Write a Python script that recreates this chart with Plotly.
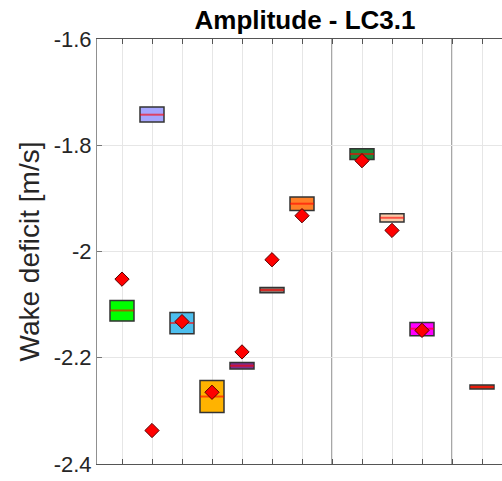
import plotly.graph_objects as go

# ---- data ----
positions   = [1, 2, 3, 4, 5, 6, 7, 9, 10, 11, 13]
box_top     = [-2.092, -1.728, -2.115, -2.243, -2.209, -2.0676, -1.8974, -1.8065, -1.9289, -2.1335, -2.2513]
box_bottom  = [-2.131, -1.756, -2.155, -2.303, -2.221, -2.0776, -1.9226, -1.8266, -1.9445, -2.1585, -2.2588]
medians     = [-2.111, -1.7425, -2.1346, -2.273, -2.215, -2.0725, -1.910, -1.8165, -1.9365, -2.1453, -2.2550]
diamond_pos = [1, 2, 3, 4, 5, 6, 7, 9, 10, 11]
diamond_val = [-2.052, -2.337, -2.132, -2.265, -2.189, -2.0155, -1.9326, -1.829, -1.9603, -2.1485]
separators  = [8, 12]
xtick_vals  = list(range(1, 14))
ytick_vals  = [-2.4, -2.2, -2.0, -1.8, -1.6]
ytick_text  = ["-2.4", "-2.2", "-2", "-1.8", "-1.6"]

# ---- styles ----
box_colors = ["#00FF00", "#A6A6FF", "#4DBEEE", "#FFB300", "#7E2F8E", "#8C7068",
              "#FF7F27", "#1B8A3A", "#F8CBA8", "#FF00FF", "#C8461E"]
FONT = "Liberation Sans, Arial, Helvetica, sans-serif"
W = 0.8

fig = go.Figure()

fig.add_trace(go.Bar(
    x=positions,
    y=[t - b for t, b in zip(box_top, box_bottom)],
    base=box_bottom,
    width=W,
    marker=dict(color=box_colors, line=dict(color="#333333", width=1.5)),
    showlegend=False, hoverinfo="skip",
))

mx, my = [], []
for p, m in zip(positions, medians):
    mx += [p - W / 2, p + W / 2, None]
    my += [m, m, None]
fig.add_trace(go.Scatter(x=mx, y=my, mode="lines",
                         line=dict(color="rgba(255,0,0,0.6)", width=2),
                         showlegend=False, hoverinfo="skip"))

fig.add_trace(go.Scatter(x=diamond_pos, y=diamond_val, mode="markers",
                         marker=dict(symbol="diamond", size=11, color="#FF0000",
                                     line=dict(color="#5a0000", width=1)),
                         showlegend=False, hoverinfo="skip"))

for s in separators:
    fig.add_vline(x=s, line=dict(color="#8a8a8a", width=1.5), layer="below")

fig.update_layout(
    width=502, height=481,
    margin=dict(l=97, r=0, t=39, b=17),
    paper_bgcolor="white", plot_bgcolor="white",
    barmode="overlay",
    font=dict(family=FONT, color="#262626"),
    title=dict(text="<b>Amplitude - LC3.1</b>", x=(305 - 97) / 405, xref="paper",
               xanchor="center", y=1 - 20 / 481, yref="container", yanchor="middle",
               font=dict(size=26, color="black", family=FONT)),
    xaxis=dict(range=[1 / 6, 1 / 6 + 13.5], tickvals=xtick_vals, showticklabels=False,
               ticks="inside", ticklen=5, tickcolor="#555555",
               showgrid=True, gridcolor="#E6E6E6", gridwidth=1,
               showline=True, linecolor="#555555", linewidth=1, mirror="ticks",
               zeroline=False),
    yaxis=dict(range=[-2.4, -1.6], tickvals=ytick_vals, ticktext=ytick_text,
               ticks="inside", ticklen=5, tickcolor="#777777",
               tickfont=dict(size=22, color="#262626"),
               showgrid=True, gridcolor="#E6E6E6", gridwidth=1,
               showline=True, linecolor="#909090", linewidth=1,
               zeroline=False,
               title=dict(text="Wake deficit [m/s]", font=dict(size=28, color="#262626"),
                          standoff=5)),
)

fig.write_html("out.html")
